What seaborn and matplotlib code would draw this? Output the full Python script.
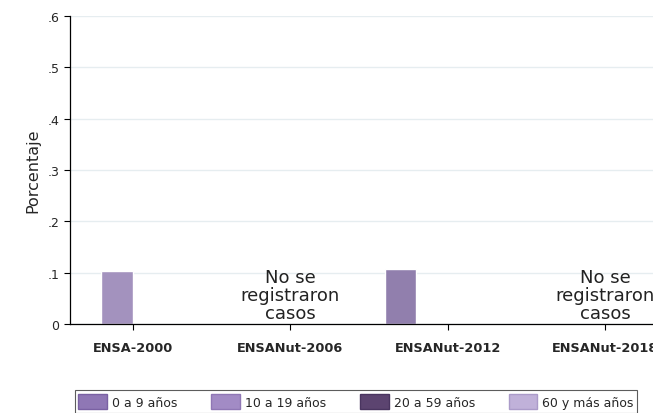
import matplotlib
matplotlib.use("Agg")
import matplotlib.pyplot as plt
import seaborn as sns
import pandas as pd
import numpy as np
from matplotlib.patches import Patch

encuestas = ["ENSA-2000", "ENSANut-2006", "ENSANut-2012", "ENSANut-2018"]
grupos = ["0 a 9 años", "10 a 19 años", "20 a 59 años", "60 y más años"]
colores = ["#8f77b5", "#a28bc5", "#5c4470", "#c0b1d9"]
bordes = ["#7a61a3", "#8f77b5", "#4a3560", "#ab9bc9"]
# values per survey (NaN = no bar)
val_0_9 = [np.nan, np.nan, 0.107, np.nan]
val_10_19 = [0.103, np.nan, np.nan, np.nan]
val_20_59 = [np.nan, np.nan, np.nan, np.nan]
val_60 = [np.nan, np.nan, np.nan, np.nan]
sin_casos = ["ENSANut-2006", "ENSANut-2018"]
nota = "No se\nregistraron\ncasos"
yticks = [0, 0.1, 0.2, 0.3, 0.4, 0.5, 0.6]
ytick_labels = ["0", ".1", ".2", ".3", ".4", ".5", ".6"]

rows = []
for g, vals in zip(grupos, [val_0_9, val_10_19, val_20_59, val_60]):
    for e, v in zip(encuestas, vals):
        if not np.isnan(v):
            rows.append({"encuesta": e, "grupo": g, "valor": v})
df = pd.DataFrame(rows)

sns.set_style("white")
plt.rcParams["font.family"] = ["DejaVu Sans"]

fig = plt.figure(figsize=(6.53, 4.14), dpi=100)
ax = fig.add_axes([70/653, 89/414, (668-70)/653, (325-17)/414])

sns.barplot(data=df, x="encuesta", y="valor", hue="grupo", order=encuestas,
            hue_order=grupos, palette=dict(zip(grupos, colores)), width=0.8,
            dodge=True, ax=ax, legend=False, errorbar=None)
for p in ax.patches:
    fc = p.get_facecolor()
    for c, b in zip(colores, bordes):
        if np.allclose(fc[:3], matplotlib.colors.to_rgb(c), atol=0.01):
            p.set_edgecolor(b)
            p.set_linewidth(0.8)

ax.set_xlim(-0.4, 3.4)
ax.set_ylim(0, 0.6)
ax.set_yticks(yticks)
ax.set_yticklabels(ytick_labels, fontsize=9)
ax.grid(axis="y", color="#e6edf0", linewidth=1)
ax.set_axisbelow(True)
ax.set_xlabel("")
ax.set_ylabel("Porcentaje", fontsize=11.5, labelpad=5)
for lbl in ax.get_xticklabels():
    lbl.set_fontweight("bold")
    lbl.set_fontsize(9.3)
ax.tick_params(axis="both", direction="out", length=4, width=0.8, color="black",
               bottom=True, left=True)
ax.tick_params(axis="x", pad=8)
for s in ["top", "right"]:
    ax.spines[s].set_visible(False)
for s in ["left", "bottom"]:
    ax.spines[s].set_color("black")
    ax.spines[s].set_linewidth(0.9)

for e in sin_casos:
    ax.text(encuestas.index(e), 0.057, nota, ha="center", va="center",
            fontsize=13, linespacing=1.0, color="#222222")

handles = [Patch(facecolor=c, edgecolor=b, label=g) for c, b, g in zip(colores, bordes, grupos)]
leg = fig.legend(handles=handles, loc="lower center", ncol=4,
                 bbox_to_anchor=(356/653, -0.015), frameon=True, fontsize=9,
                 handlelength=2.3, handleheight=1.5, columnspacing=2.7,
                 handletextpad=0.4, borderpad=0.3, fancybox=False)
leg.get_frame().set_edgecolor("#333333")
leg.get_frame().set_linewidth(0.8)

fig.savefig("out.png", dpi=100)
